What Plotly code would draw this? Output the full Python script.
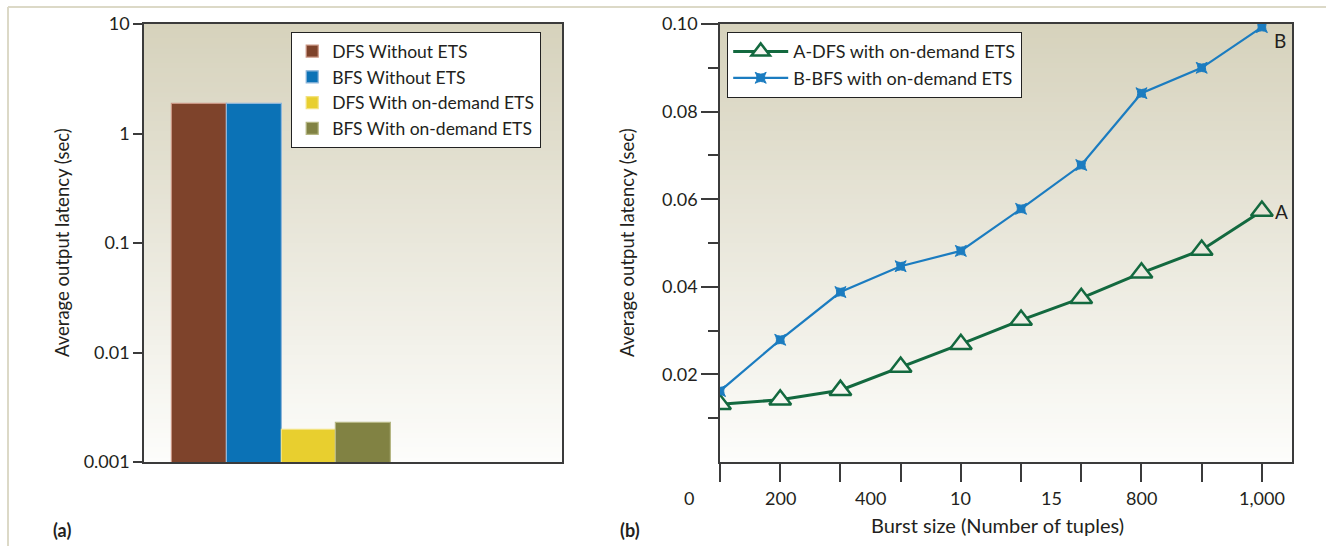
import plotly.graph_objects as go

# ---------------- data ----------------
bar_names = ["DFS Without ETS", "BFS Without ETS", "DFS With on-demand ETS", "BFS With on-demand ETS"]
bar_values = [1.86, 1.86, 0.00196, 0.00228]
bar_colors = ["#7e432b", "#0b72b6", "#e8cf2f", "#818243"]
bar_edges = ["#c99583", "#8db5d9", "#f3e27f", "#b5b683"]

burst_labels = ["0", "200", "400", "10", "15", "800", "1,000"]
series_a_name = "A-DFS with on-demand ETS"
series_a = [0.0132, 0.0142, 0.0164, 0.0217, 0.0269, 0.0324, 0.0374, 0.0432, 0.0484, 0.0573]
series_b_name = "B-BFS with on-demand ETS"
series_b = [0.0162, 0.0279, 0.0388, 0.0447, 0.0482, 0.0578, 0.0678, 0.0842, 0.0900, 0.0993]
y_ticks_b = [0.02, 0.04, 0.06, 0.08, 0.10]
y_ticks_a = [0.001, 0.01, 0.1, 1, 10]
y_ticklabels_a = ["0.001", "0.01", "0.1", "1", "10"]

# ---------------- layout geometry ----------------
W, H = 1326, 546
def px(x): return x / W
def py(y): return 1 - y / H

FONT = "Lato, 'Open Sans', sans-serif"
TXT = "#231f20"
AX = "#3b3b3b"
TOP_C = (214, 210, 188)
BOT_C = (253, 253, 251)

def grad(t):  # t=1 top, 0 bottom
    c = [round(BOT_C[i] + (TOP_C[i] - BOT_C[i]) * t) for i in range(3)]
    return "rgb(%d,%d,%d)" % tuple(c)

fig = go.Figure()

for i, name in enumerate(bar_names):
    fig.add_trace(go.Bar(
        x=[i], y=[bar_values[i]], name=name, width=1.0,
        marker=dict(color=bar_colors[i], line=dict(color=bar_edges[i], width=1.2)),
        xaxis="x", yaxis="y", legend="legend", showlegend=True))

xs = list(range(len(series_a)))
fig.add_trace(go.Scatter(
    x=xs, y=series_a, name=series_a_name, mode="lines+markers",
    line=dict(color="#13693f", width=3),
    marker=dict(symbol="triangle-up", size=19,
                color=[grad(v / 0.10) for v in series_a],
                line=dict(color="#13693f", width=2.5)),
    xaxis="x2", yaxis="y2", legend="legend2"))
fig.add_trace(go.Scatter(
    x=xs, y=series_b, name=series_b_name, mode="lines+markers",
    line=dict(color="#1b7cc0", width=2.2),
    marker=dict(symbol="star-square", size=10, color="#1b7cc0",
                line=dict(color="#1b7cc0", width=1)),
    xaxis="x2", yaxis="y2", legend="legend2"))

# background gradients
shapes = []
N = 90
for ax in ["x", "x2"]:
    yref = "y" if ax == "x" else "y2"
    for k in range(N):
        t0, t1 = k / N, (k + 1) / N
        shapes.append(dict(type="rect", xref=ax + " domain", yref=yref + " domain",
                           x0=0, x1=1, y0=t0, y1=t1 + 0.002, layer="below",
                           line=dict(width=0), fillcolor=grad((t0 + t1) / 2)))
# page frame
shapes.append(dict(type="line", xref="paper", yref="paper", x0=px(8), x1=1, y0=py(7), y1=py(7),
                   line=dict(color="#dcd9c7", width=2)))
shapes.append(dict(type="line", xref="paper", yref="paper", x0=px(8), x1=px(8), y0=py(7), y1=0,
                   line=dict(color="#dcd9c7", width=2)))

ydom = [py(462), py(24)]
x2dom = [px(720), px(1292)]
x2range = [0, 9.5]
axis_common = dict(showline=True, linecolor=AX, linewidth=1.5, mirror=True, showgrid=False,
                   zeroline=False, tickfont=dict(family=FONT, size=18, color=TXT))

def x2_to_paper(v):
    return x2dom[0] + (v - x2range[0]) / (x2range[1] - x2range[0]) * (x2dom[1] - x2dom[0])

annotations = []
# x labels for right chart (placed midway / on ticks as in the source figure)
label_pos = [-0.52, 1, 2.5, 4, 5.5, 7, 9]
for lab, p in zip(burst_labels, label_pos):
    annotations.append(dict(x=x2_to_paper(p), y=py(498), xref="paper", yref="paper", text=lab,
                            showarrow=False, font=dict(family=FONT, size=18, color=TXT),
                            xanchor="center", yanchor="middle"))
annotations += [
    dict(x=9, y=series_b[-1], xref="x2", yref="y2", text="B", showarrow=False, xshift=10, yshift=-13,
         xanchor="left", yanchor="middle", font=dict(family=FONT, size=19, color=TXT)),
    dict(x=9, y=series_a[-1], xref="x2", yref="y2", text="A", showarrow=False, xshift=11, yshift=0,
         xanchor="left", yanchor="middle", font=dict(family=FONT, size=19, color=TXT)),
    dict(x=px(62), y=py(243), xref="paper", yref="paper", text="Average output latency (sec)",
         textangle=-90, showarrow=False, xanchor="center", yanchor="middle",
         font=dict(family=FONT, size=18.5, color=TXT)),
    dict(x=px(627), y=py(243), xref="paper", yref="paper", text="Average output latency (sec)",
         textangle=-90, showarrow=False, xanchor="center", yanchor="middle",
         font=dict(family=FONT, size=18.5, color=TXT)),
    dict(x=px(997), y=py(525), xref="paper", yref="paper", text="Burst size (Number of tuples)",
         showarrow=False, xanchor="center", yanchor="middle",
         font=dict(family=FONT, size=20, color=TXT)),
    dict(x=px(62), y=py(530), xref="paper", yref="paper", text="<b>(a)</b>",
         showarrow=False, xanchor="center", yanchor="middle",
         font=dict(family=FONT, size=18, color=TXT)),
    dict(x=px(630), y=py(530), xref="paper", yref="paper", text="<b>(b)</b>",
         showarrow=False, xanchor="center", yanchor="middle",
         font=dict(family=FONT, size=18, color=TXT)),
]

fig.update_layout(
    width=W, height=H, margin=dict(l=0, r=0, t=0, b=0, autoexpand=False),
    paper_bgcolor="white", plot_bgcolor="rgba(0,0,0,0)",
    font=dict(family=FONT, color=TXT),
    barmode="overlay", bargap=0,
    xaxis=dict(axis_common, domain=[px(144), px(562)], range=[-1.01, 6.62],
               showticklabels=False, ticks="", automargin=False),
    yaxis=dict(axis_common, domain=ydom, type="log", range=[-3, 1],
               tickvals=y_ticks_a, ticktext=y_ticklabels_a, ticks="outside", ticklen=9,
               tickcolor=AX, tickwidth=1.5, automargin=False),
    xaxis2=dict(axis_common, domain=x2dom, range=x2range,
                tickvals=xs, showticklabels=False, ticks="outside", ticklen=18,
                tickcolor=AX, tickwidth=1.5, anchor="y2", automargin=False),
    yaxis2=dict(axis_common, domain=ydom, range=[0, 0.10], anchor="x2",
                tickvals=y_ticks_b, ticktext=["%.2f" % v for v in y_ticks_b],
                ticks="outside", ticklen=17, tickcolor=AX, tickwidth=1.5, automargin=False,
                minor=dict(tickvals=[0.01, 0.03, 0.05, 0.07, 0.09], ticks="outside",
                           ticklen=10, tickcolor=AX, tickwidth=1.5)),
    legend=dict(x=px(291), y=py(32), xanchor="left", yanchor="top",
                bgcolor="white", bordercolor="#222", borderwidth=1.2,
                font=dict(family=FONT, size=17.5, color=TXT), tracegroupgap=0,
                itemwidth=30),
    legend2=dict(x=px(727), y=py(32), xanchor="left", yanchor="top",
                 bgcolor="white", bordercolor="#222", borderwidth=1.2,
                 font=dict(family=FONT, size=18, color=TXT), itemwidth=55),
    shapes=shapes, annotations=annotations, showlegend=True,
)

fig.write_html("out.html", config={"displayModeBar": False},
               post_script="document.body.style.margin='0';document.body.style.overflow='hidden';")
